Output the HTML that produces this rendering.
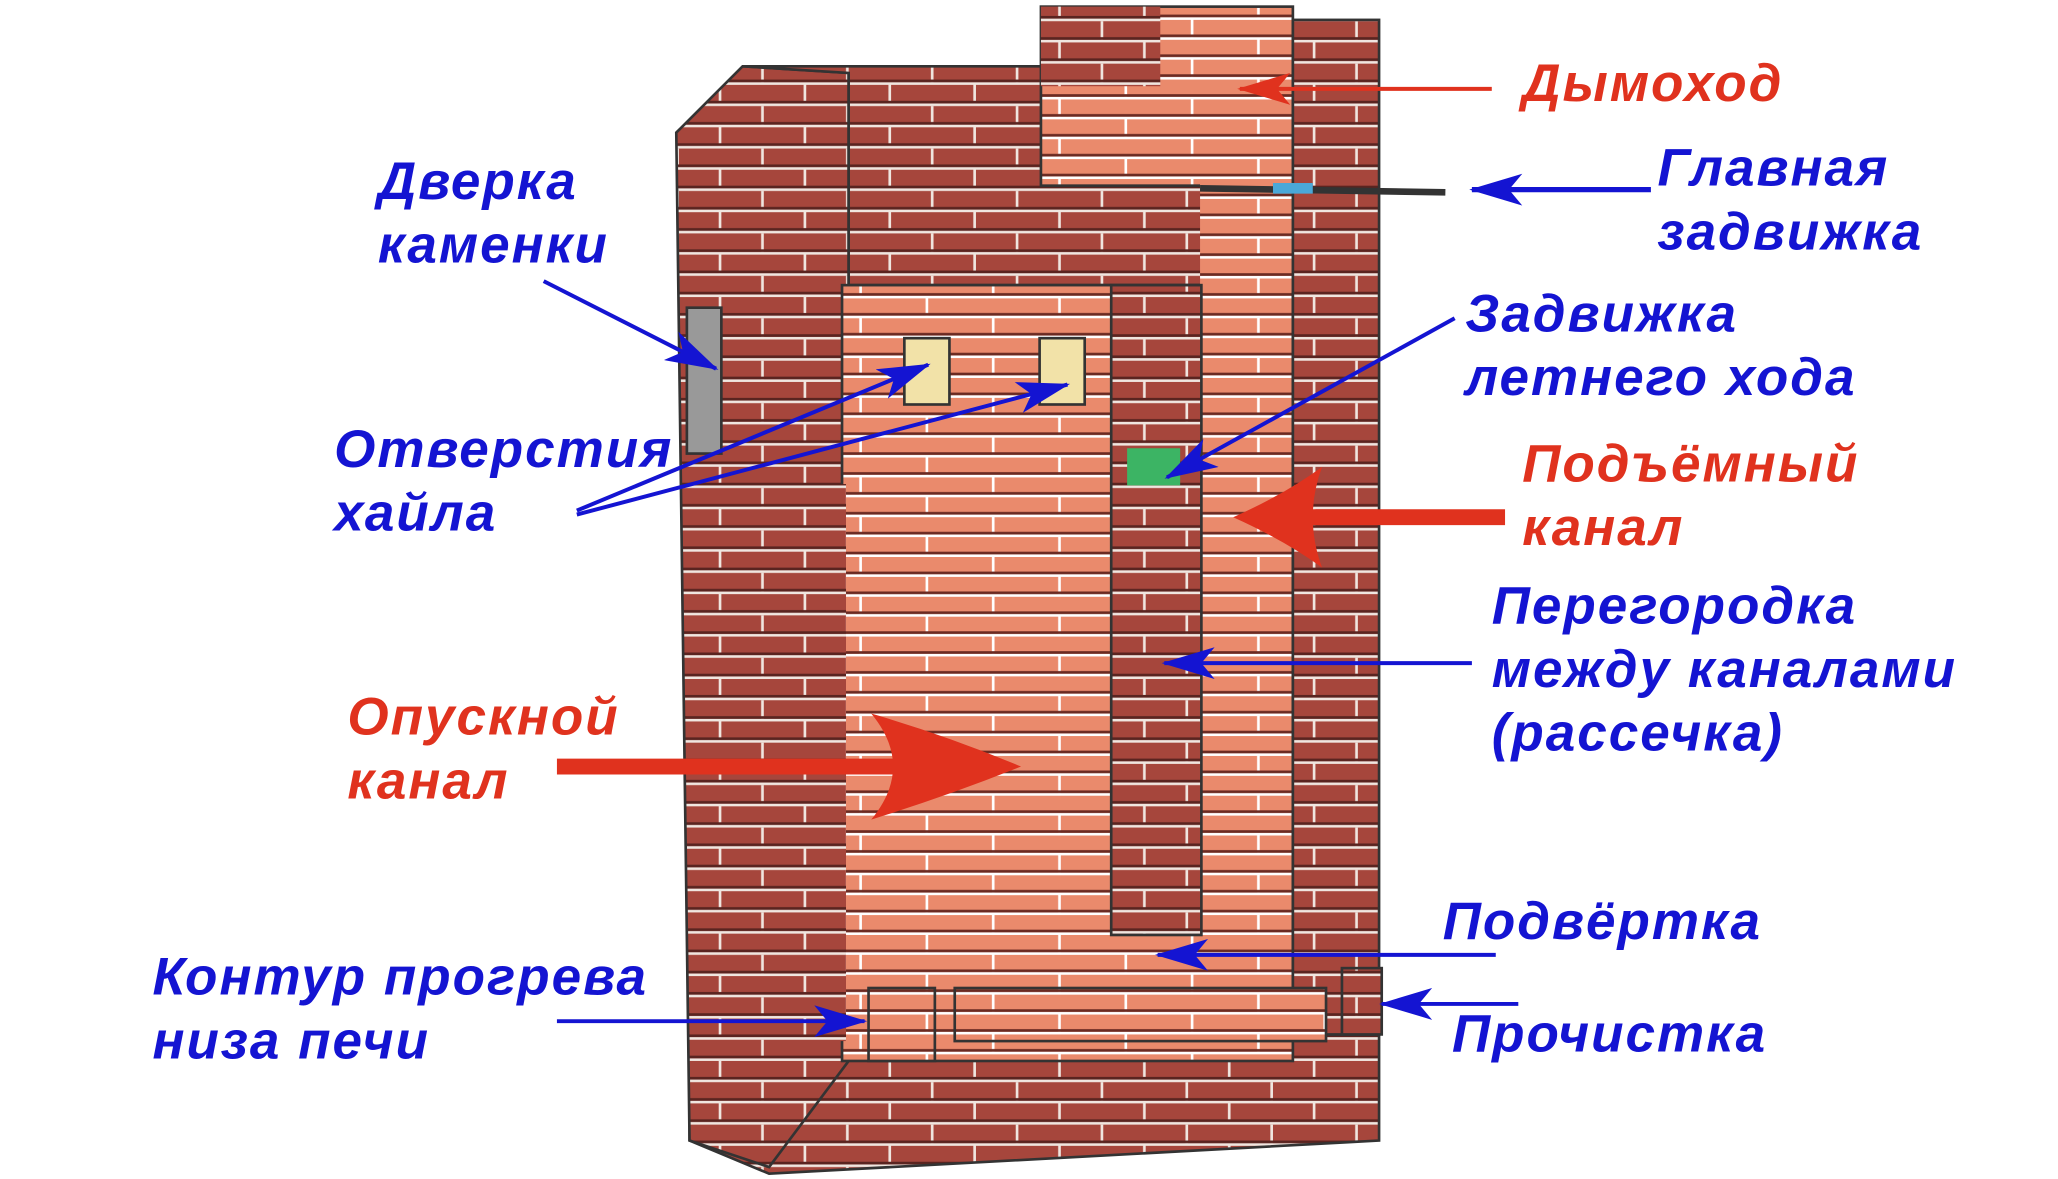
<!DOCTYPE html>
<html><head><meta charset="utf-8"><style>
html,body{margin:0;padding:0;background:#fff;}
svg{display:block;}
text{font-family:"Liberation Sans",sans-serif;font-weight:bold;font-style:italic;font-size:40px;letter-spacing:1.5px;}
.b{fill:#1414d2;}
.r{fill:#e0321e;}
</style></head><body>
<svg width="2058" height="1179" viewBox="0 0 1552 889" preserveAspectRatio="none" xmlns="http://www.w3.org/2000/svg">
<defs>
<pattern id="dk" width="64" height="32" patternUnits="userSpaceOnUse">
<rect width="64" height="32" fill="#a6463c"/>
<rect x="0" y="14" width="64" height="2" fill="#f0e6e0"/>
<rect x="0" y="30" width="64" height="2" fill="#f0e6e0"/>
<rect x="30" y="0" width="2" height="14" fill="#f0e6e0"/>
<rect x="62" y="16" width="2" height="14" fill="#f0e6e0"/>
<rect x="0" y="12" width="64" height="2" fill="#5a2420"/>
<rect x="0" y="28" width="64" height="2" fill="#5a2420"/>
</pattern>
<pattern id="lt" width="100" height="30" patternUnits="userSpaceOnUse">
<rect width="100" height="30" fill="#ea8a6c"/>
<rect x="0" y="13" width="100" height="2" fill="#fff"/>
<rect x="0" y="28" width="100" height="2" fill="#fff"/>
<rect x="48" y="0" width="2" height="13" fill="#fff"/>
<rect x="98" y="15" width="2" height="13" fill="#fff"/>
<rect x="0" y="11" width="100" height="2" fill="#6a2a22"/>
<rect x="0" y="26" width="100" height="2" fill="#6a2a22"/>
</pattern>
<marker id="abl" markerWidth="40" markerHeight="24" refX="38" refY="12" orient="auto" markerUnits="userSpaceOnUse"><path d="M0,0 L40,12 L0,24 L10,12z" fill="#1414d2"/></marker>
<marker id="ar" markerWidth="40" markerHeight="24" refX="38" refY="12" orient="auto" markerUnits="userSpaceOnUse"><path d="M0,0 L40,12 L0,24 L10,12z" fill="#e0321e"/></marker>
</defs>
<polygon points="520,780 1040,780 1040,860 580,885 520,860" fill="url(#dk)" stroke="#333" stroke-width="2"/>
<polygon points="510,100 560,50 640,55 640,800 580,880 520,860" fill="url(#dk)" stroke="#333" stroke-width="2"/>
<polygon points="560,50 880,50 975,40 975,215 640,215 640,55" fill="url(#dk)" stroke="#333" stroke-width="2"/>
<rect x="785" y="5" width="190" height="135" fill="url(#lt)" stroke="#333" stroke-width="2"/>
<rect x="785" y="5" width="90" height="60" fill="url(#dk)"/>
<rect x="635" y="215" width="340" height="585" fill="url(#lt)" stroke="#333" stroke-width="2"/>
<rect x="905" y="120" width="70" height="100" fill="url(#lt)"/>
<rect x="838" y="215" width="68" height="490" fill="url(#dk)" stroke="#333" stroke-width="2"/>
<rect x="850" y="338" width="40" height="28" fill="#3cb464"/>
<rect x="600" y="365" width="38" height="420" fill="url(#dk)"/>
<rect x="975" y="15" width="65" height="765" fill="url(#dk)" stroke="#333" stroke-width="2"/>
<rect x="682" y="255" width="34" height="50" fill="#f2e2a8" stroke="#333" stroke-width="2"/>
<rect x="784" y="255" width="34" height="50" fill="#f2e2a8" stroke="#333" stroke-width="2"/>
<rect x="518" y="232" width="26" height="110" fill="#999" stroke="#333" stroke-width="2"/>
<rect x="655" y="745" width="50" height="55" fill="url(#lt)" stroke="#333" stroke-width="2"/>
<rect x="720" y="745" width="280" height="40" fill="url(#lt)" stroke="#333" stroke-width="2"/>
<rect x="1012" y="730" width="30" height="50" fill="url(#dk)" stroke="#333" stroke-width="2"/>
<line x1="905" y1="142" x2="1090" y2="145" stroke="#333" stroke-width="5"/>
<rect x="960" y="138" width="30" height="8" fill="#4aa8d8"/>

<line x1="1125" y1="67" x2="935" y2="67" stroke="#e0321e" stroke-width="3" marker-end="url(#ar)"/>
<line x1="1245" y1="143" x2="1110" y2="143" stroke="#1414d2" stroke-width="4" marker-end="url(#abl)"/>
<line x1="410" y1="212" x2="540" y2="278" stroke="#1414d2" stroke-width="3" marker-end="url(#abl)"/>
<line x1="1097" y1="240" x2="880" y2="360" stroke="#1414d2" stroke-width="3" marker-end="url(#abl)"/>
<line x1="435" y1="385" x2="700" y2="275" stroke="#1414d2" stroke-width="3" marker-end="url(#abl)"/>
<line x1="435" y1="388" x2="805" y2="290" stroke="#1414d2" stroke-width="3" marker-end="url(#abl)"/>
<line x1="1135" y1="390" x2="985" y2="390" stroke="#e0321e" stroke-width="12"/>
<path d="M930,390 Q970,372 997,352 Q983,390 997,428 Q970,408 930,390z" fill="#e0321e"/>
<line x1="1110" y1="500" x2="878" y2="500" stroke="#1414d2" stroke-width="3" marker-end="url(#abl)"/>
<line x1="420" y1="578" x2="715" y2="578" stroke="#e0321e" stroke-width="12"/>
<path d="M770,578 Q715,555 657,538 Q690,578 657,618 Q715,600 770,578z" fill="#e0321e"/>
<line x1="1128" y1="720" x2="873" y2="720" stroke="#1414d2" stroke-width="3" marker-end="url(#abl)"/>
<line x1="420" y1="770" x2="652" y2="770" stroke="#1414d2" stroke-width="3" marker-end="url(#abl)"/>
<line x1="1145" y1="757" x2="1042" y2="757" stroke="#1414d2" stroke-width="3" marker-end="url(#abl)"/>

<text x="1148" y="76" class="r">Дымоход</text>
<text x="1250" y="140" class="b">Главная</text>
<text x="1250" y="188" class="b">задвижка</text>
<text x="285" y="150" class="b">Дверка</text>
<text x="285" y="198" class="b">каменки</text>
<text x="1105" y="250" class="b">Задвижка</text>
<text x="1105" y="298" class="b">летнего хода</text>
<text x="252" y="352" class="b">Отверстия</text>
<text x="252" y="400" class="b">хайла</text>
<text x="1148" y="363" class="r">Подъёмный</text>
<text x="1148" y="411" class="r">канал</text>
<text x="1125" y="470" class="b">Перегородка</text>
<text x="1125" y="518" class="b">между каналами</text>
<text x="1125" y="566" class="b">(рассечка)</text>
<text x="262" y="554" class="r">Опускной</text>
<text x="262" y="602" class="r">канал</text>
<text x="1088" y="708" class="b">Подвёртка</text>
<text x="115" y="750" class="b">Контур прогрева</text>
<text x="115" y="798" class="b">низа печи</text>
<text x="1095" y="793" class="b">Прочистка</text>
</svg>
</body></html>
